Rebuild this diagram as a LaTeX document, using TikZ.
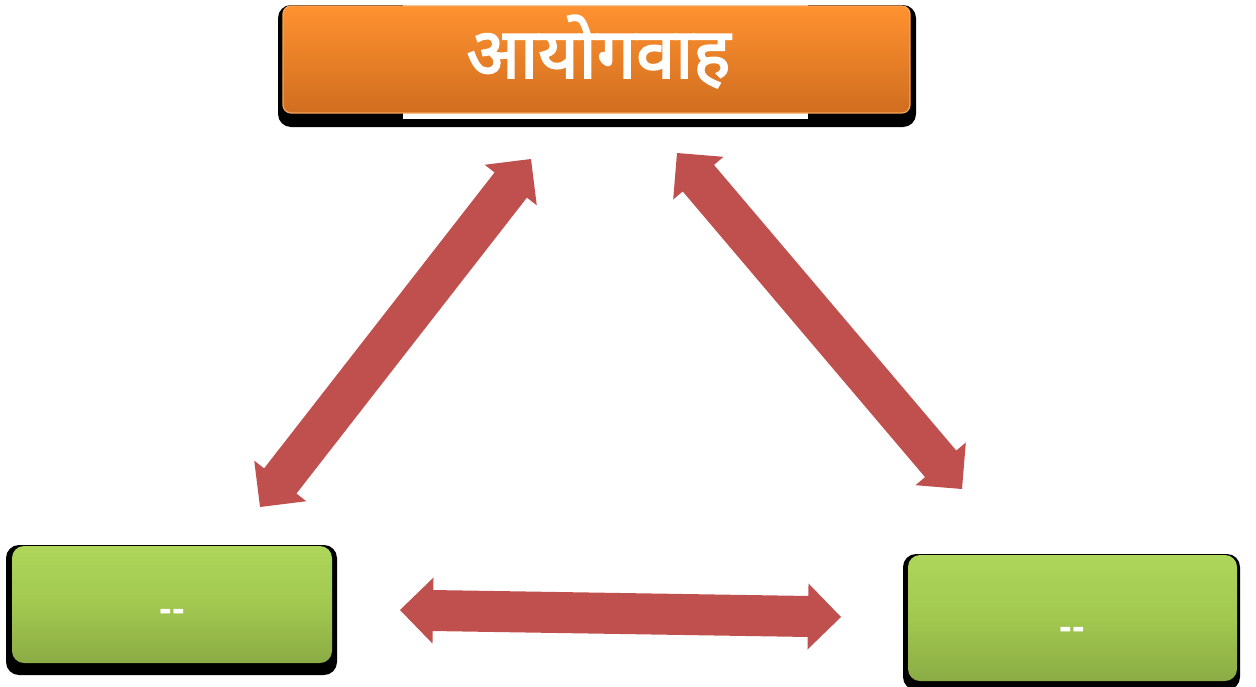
\documentclass[tikz,border=0pt]{standalone}
\usepackage{fontspec}
\usetikzlibrary{calc}
\newfontfamily\devfont[Script=Devanagari,FakeBold=2.5]{Noto Sans}
\setsansfont{Liberation Sans}
\definecolor{arrowred}{HTML}{C0504D}
\definecolor{orTop}{HTML}{FF9230}
\definecolor{orBot}{HTML}{D06D1F}
\definecolor{orEdge}{HTML}{F7A45A}
\definecolor{grTop}{HTML}{ADD65A}
\definecolor{grMid}{HTML}{A2C850}
\definecolor{grBot}{HTML}{8BAC45}
\newcommand\dblarr[2]{%
  \path ($(#1)!33pt!(#2)$) coordinate (#1h) ($(#2)!33pt!(#1)$) coordinate (#2h);
  \fill[arrowfill] (#1) -- ($(#1h)!33pt!90:(#2)$) -- ($(#1h)!20.5pt!90:(#2)$)
    -- ($(#2h)!20.5pt!-90:(#1)$) -- ($(#2h)!33pt!-90:(#1)$) -- (#2)
    -- ($(#2h)!33pt!90:(#1)$) -- ($(#2h)!20.5pt!90:(#1)$)
    -- ($(#1h)!20.5pt!-90:(#2)$) -- ($(#1h)!33pt!-90:(#2)$) -- cycle;}
\begin{document}
\begin{tikzpicture}[x=1pt,y=-1pt,
  shadowbox/.style={fill=black, rounded corners=13pt},
  orangebox/.style={rounded corners=8pt, top color=orTop, bottom color=orBot,
    draw=orEdge, line width=1.2pt, inner sep=0pt},
  greenbox/.style={rounded corners=12pt, top color=grTop, bottom color=grBot,
    middle color=grMid, inner sep=0pt},
  titletext/.style={text=white, font=\devfont\fontsize{70}{80}\selectfont},
  dashtext/.style={text=white, font=\sffamily\bfseries\fontsize{38}{42}\selectfont},
  arrowfill/.style={fill=arrowred}]
\useasboundingbox (0,0) rectangle (1256,686);
% shadows
\fill[shadowbox] (278,5) rectangle (916,127);
\fill[white] (403,0) rectangle (808,119);
\fill[shadowbox] (6,545) rectangle (337,675);
\fill[shadowbox] (903,554) rectangle (1240,690);
% boxes
\node[orangebox, minimum width=627pt, minimum height=107pt] (top) at (596.5,59.5) {};
\node[titletext] (title) at ($(top.center)+(2,-8)$) {आयोगवाह};
\node[greenbox, minimum width=320pt, minimum height=117pt] (left) at (172,604.5) {};
\node[dashtext] (lefttext) at ($(left.center)+(0,11)$) {-{}-};
\node[greenbox, minimum width=329pt, minimum height=126pt] (right) at (1072.5,618) {};
\node[dashtext] (righttext) at ($(right.center)+(0,15)$) {-{}-};
% arrows
\coordinate (aas) at (260,507); \coordinate (aae) at (531,159);
\coordinate (abs) at (677,153); \coordinate (abe) at (962,489);
\coordinate (acs) at (400,610); \coordinate (ace) at (841,617);
\dblarr{aas}{aae}
\dblarr{abs}{abe}
\dblarr{acs}{ace}
\end{tikzpicture}
\end{document}
